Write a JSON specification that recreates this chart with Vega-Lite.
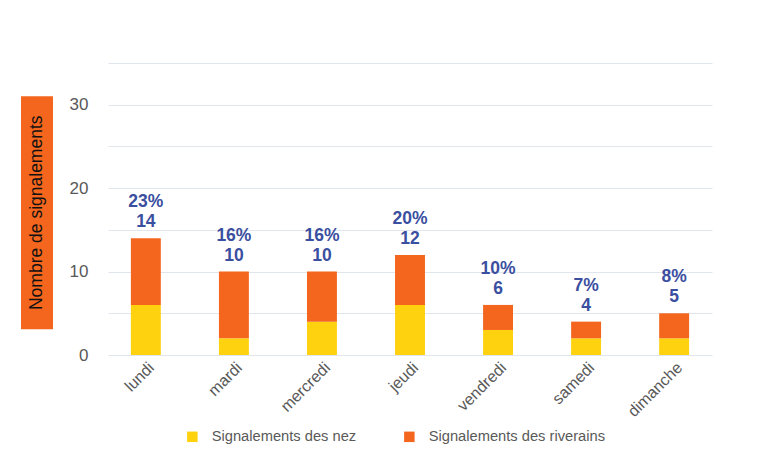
{
  "$schema": "https://vega.github.io/schema/vega-lite/v6.json",
  "background": "#ffffff",
  "padding": {"left": 21, "top": 63, "right": 5, "bottom": 5},
  "config": {
    "view": {"stroke": null},
    "font": "Liberation Sans"
  },
  "datasets": {
    "bars": [
      {"jour": "lundi", "serie": "Signalements des nez", "ordre": 1, "n": 6},
      {"jour": "lundi", "serie": "Signalements des riverains", "ordre": 2, "n": 8},
      {"jour": "mardi", "serie": "Signalements des nez", "ordre": 1, "n": 2},
      {"jour": "mardi", "serie": "Signalements des riverains", "ordre": 2, "n": 8},
      {"jour": "mercredi", "serie": "Signalements des nez", "ordre": 1, "n": 4},
      {"jour": "mercredi", "serie": "Signalements des riverains", "ordre": 2, "n": 6},
      {"jour": "jeudi", "serie": "Signalements des nez", "ordre": 1, "n": 6},
      {"jour": "jeudi", "serie": "Signalements des riverains", "ordre": 2, "n": 6},
      {"jour": "vendredi", "serie": "Signalements des nez", "ordre": 1, "n": 3},
      {"jour": "vendredi", "serie": "Signalements des riverains", "ordre": 2, "n": 3},
      {"jour": "samedi", "serie": "Signalements des nez", "ordre": 1, "n": 2},
      {"jour": "samedi", "serie": "Signalements des riverains", "ordre": 2, "n": 2},
      {"jour": "dimanche", "serie": "Signalements des nez", "ordre": 1, "n": 2},
      {"jour": "dimanche", "serie": "Signalements des riverains", "ordre": 2, "n": 3}
    ],
    "labels": [
      {"jour": "lundi", "total": 14, "pct": "23%"},
      {"jour": "mardi", "total": 10, "pct": "16%"},
      {"jour": "mercredi", "total": 10, "pct": "16%"},
      {"jour": "jeudi", "total": 12, "pct": "20%"},
      {"jour": "vendredi", "total": 6, "pct": "10%"},
      {"jour": "samedi", "total": 4, "pct": "7%"},
      {"jour": "dimanche", "total": 5, "pct": "8%"}
    ],
    "box": [
      {"y": 3.1, "y2": 31.0, "ym": 17.05, "t": "Nombre de signalements"}
    ]
  },
  "hconcat": [
    {
      "width": 32,
      "height": 292,
      "data": {"name": "box"},
      "layer": [
        {
          "mark": {"type": "rect", "color": "#f4661e"},
          "encoding": {
            "y": {"field": "y", "type": "quantitative", "scale": {"domain": [0, 35], "nice": false}, "axis": null},
            "y2": {"field": "y2"}
          }
        },
        {
          "mark": {"type": "text", "angle": 270, "fontSize": 17.5, "color": "#111111", "align": "center", "baseline": "middle"},
          "encoding": {
            "y": {"field": "ym", "type": "quantitative", "scale": {"domain": [0, 35], "nice": false}, "axis": null},
            "text": {"field": "t"}
          }
        }
      ]
    },
    {
      "width": 604,
      "height": 292,
      "encoding": {
        "x": {
          "field": "jour",
          "type": "nominal",
          "sort": ["lundi", "mardi", "mercredi", "jeudi", "vendredi", "samedi", "dimanche"],
          "scale": {"paddingInner": 0.66, "paddingOuter": 0.26},
          "axis": {
            "title": null,
            "labelAngle": -45,
            "labelFontSize": 16,
            "labelColor": "#595959",
            "ticks": false,
            "domain": false,
            "labelPadding": 4
          }
        }
      },
      "layer": [
        {
          "data": {"name": "bars"},
          "mark": {"type": "bar"},
          "encoding": {
            "y": {
              "field": "n",
              "type": "quantitative",
              "stack": "zero",
              "scale": {"domain": [0, 35], "nice": false},
              "axis": {
                "title": null,
                "values": [0, 5, 10, 15, 20, 25, 30, 35],
                "labelExpr": "datum.value % 10 === 0 ? datum.label : ''",
                "labelFontSize": 17,
                "labelColor": "#595959",
                "ticks": false,
                "domain": false,
                "labelPadding": 20,
                "gridColor": "#e0e5ee",
                "gridWidth": 1
              }
            },
            "order": {"field": "ordre", "type": "quantitative", "sort": "ascending"},
            "color": {
              "field": "serie",
              "type": "nominal",
              "scale": {
                "domain": ["Signalements des nez", "Signalements des riverains"],
                "range": ["#fed20e", "#f4661e"]
              },
              "legend": {
                "title": null,
                "orient": "none",
                "legendX": 164,
                "legendY": 366,
                "direction": "horizontal",
                "symbolType": "square",
                "symbolSize": 110,
                "symbolStrokeWidth": 0,
                "labelFontSize": 14.7,
                "labelColor": "#595959",
                "labelOffset": 12,
                "labelLimit": 400,
                "columnPadding": 45
              }
            }
          }
        },
        {
          "data": {"name": "labels"},
          "mark": {"type": "text", "fontSize": 17.5, "fontWeight": "bold", "color": "#3b4fa0", "baseline": "bottom", "dy": -7},
          "encoding": {
            "y": {"field": "total", "type": "quantitative"},
            "text": {"field": "total"}
          }
        },
        {
          "data": {"name": "labels"},
          "mark": {"type": "text", "fontSize": 17.5, "fontWeight": "bold", "color": "#3b4fa0", "baseline": "bottom", "dy": -27},
          "encoding": {
            "y": {"field": "total", "type": "quantitative"},
            "text": {"field": "pct"}
          }
        }
      ]
    }
  ],
  "spacing": 16
}
